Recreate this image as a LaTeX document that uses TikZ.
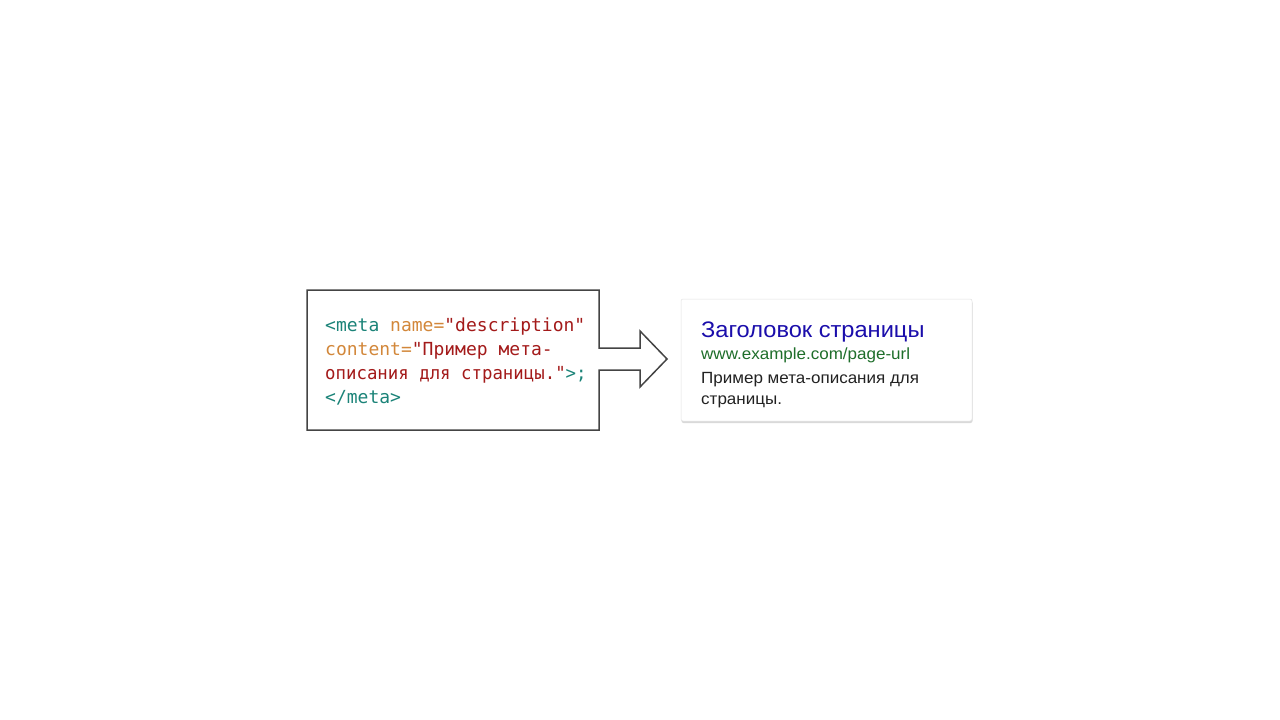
\documentclass[tikz,border=0pt]{standalone}
\usepackage{fontspec}
\usepackage{graphicx}
\setmainfont[FakeStretch=1.05]{Liberation Sans}
\newfontfamily\codefont{DejaVu Sans Mono}
\usetikzlibrary{shadows}
\definecolor{tagc}{HTML}{1B8378}
\definecolor{attrc}{HTML}{D2873A}
\definecolor{strc}{HTML}{A31A1A}
\definecolor{titlec}{HTML}{1A0DAB}
\definecolor{urlc}{HTML}{1E6E2A}
\definecolor{descc}{HTML}{222222}
\definecolor{framec}{HTML}{444444}
\begin{document}
\begin{tikzpicture}[x=1pt,y=-1pt,
  codeline/.style={anchor=base west,inner sep=0pt,font=\codefont\fontsize{18}{20}\selectfont},
  cardline/.style={anchor=base west,inner sep=0pt},
  frame/.style={draw=framec,line width=1.5pt,line join=miter},
  card/.style={fill=white,draw=black!12,line width=0.5pt,rounded corners=2pt,
    drop shadow={opacity=0.3,shadow xshift=0.5pt,shadow yshift=-2pt}}]
\useasboundingbox (0,0) rectangle (1280,720);
% left code box with arrow
\draw[frame] (307,290) -- (599,290) -- (599,348) -- (640,348) -- (640,331)
  -- (667,359) -- (640,387) -- (640,370) -- (599,370) -- (599,430) -- (307,430) -- cycle;
\node[codeline] (c1) at (325,331) {\textcolor{tagc}{<meta} \textcolor{attrc}{name=}\textcolor{strc}{"description"}};
\node[codeline] (c2) at (325,355) {\textcolor{attrc}{content=}\textcolor{strc}{"Пример мета-}};
\node[codeline] (c3) at (325,379) {\scalebox{0.965}[1]{\textcolor{strc}{описания для страницы."}\textcolor{tagc}{>;}}};
\node[codeline] (c4) at (325,403) {\textcolor{tagc}{</meta>}};
% right card
\path[card] (681,299) rectangle (972,421);
\node[cardline,font=\fontsize{22.5}{24}\selectfont,text=titlec] (t) at (701,337) {Заголовок страницы};
\node[cardline,font=\fontsize{16.2}{18}\selectfont,text=urlc] (u) at (701,359) {www.example.com/page-url};
\node[cardline,font=\fontsize{16.2}{18}\selectfont,text=descc] (d1) at (701,383) {Пример мета-описания для};
\node[cardline,font=\fontsize{16.2}{18}\selectfont,text=descc] (d2) at (701,404) {страницы.};
\end{tikzpicture}
\end{document}
